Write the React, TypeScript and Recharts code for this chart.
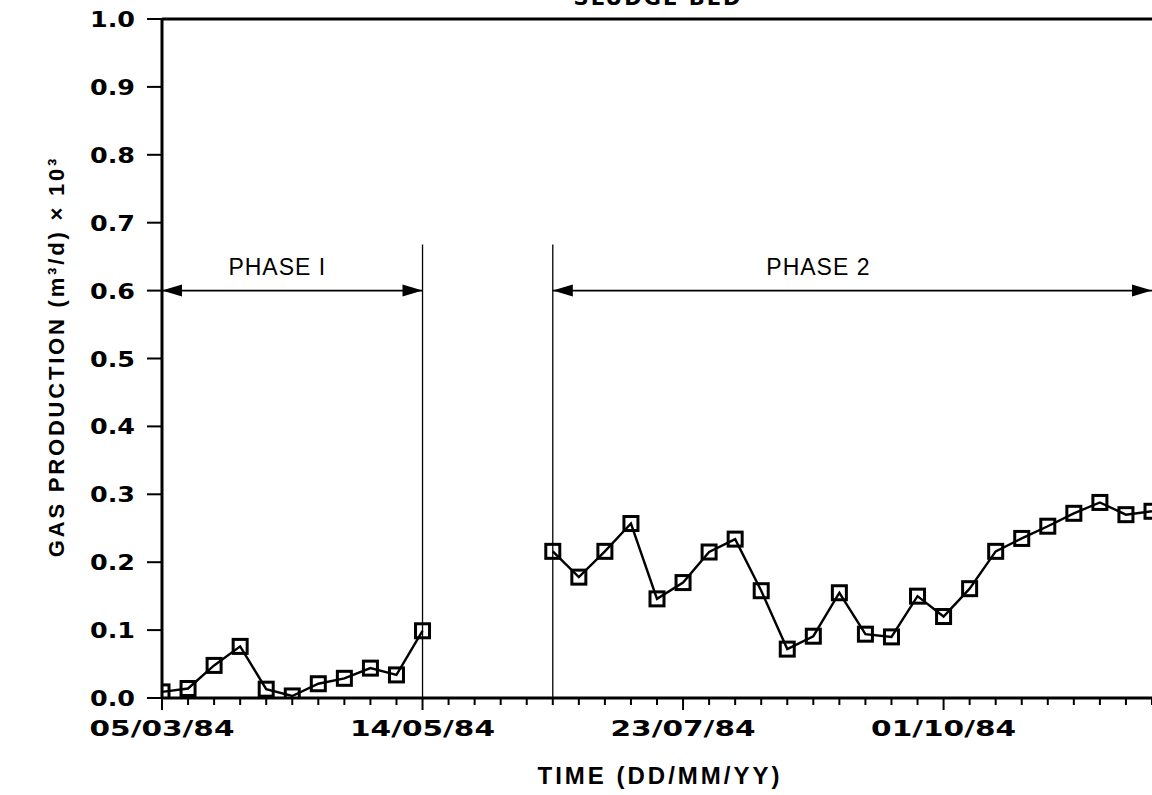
import React from 'react';
import { LineChart, Line, XAxis, YAxis, ReferenceLine, Label } from 'recharts';

// Days since 05/03/84 (weekly samples)
const phase1Days = [0, 7, 14, 21, 28, 35, 42, 49, 56, 63, 70];
const phase1Gas = [0.009, 0.014, 0.048, 0.076, 0.013, 0.003, 0.021, 0.029, 0.044, 0.034, 0.099];

const phase2Days = [105, 112, 119, 126, 133, 140, 147, 154, 161, 168, 175, 182, 189, 196, 203, 210, 217, 224, 231, 238, 245, 252, 259, 266];
const phase2Gas = [0.216, 0.178, 0.216, 0.257, 0.146, 0.17, 0.215, 0.234, 0.158, 0.072, 0.091, 0.155, 0.094, 0.09, 0.15, 0.12, 0.161, 0.216, 0.235, 0.253, 0.272, 0.288, 0.27, 0.275];

const xTickDays = [0, 7, 14, 21, 28, 35, 42, 49, 56, 63, 70, 77, 84, 91, 98, 105, 112, 119, 126, 133, 140, 147, 154, 161, 168, 175, 182, 189, 196, 203, 210, 217, 224, 231, 238, 245, 252, 259, 266];
const xMajorDays = [0, 70, 140, 210];
const xMajorLabels = ['05/03/84', '14/05/84', '23/07/84', '01/10/84'];

const yTicks = [0, 0.1, 0.2, 0.3, 0.4, 0.5, 0.6, 0.7, 0.8, 0.9, 1.0];
const yTickLabels = ['0.0', '0.1', '0.2', '0.3', '0.4', '0.5', '0.6', '0.7', '0.8', '0.9', '1.0'];

const phaseEnd1 = 70;
const phaseStart2 = 105;
const phaseArrowLevel = 0.6;
const phaseLineTop = 0.668;

const phase1Data = phase1Days.map((d, i) => ({ day: d, gas: phase1Gas[i] }));
const phase2Data = phase2Days.map((d, i) => ({ day: d, gas: phase2Gas[i] }));

const tickFont = "'DejaVu Sans', sans-serif";
const labelFont = "'Liberation Sans', Arial, sans-serif";

const XTick = (props: any) => {
  const { x, y, payload } = props;
  const idx = xMajorDays.indexOf(payload.value);
  const major = idx >= 0;
  return (
    <g>
      <line x1={x} x2={x} y1={y} y2={y + (major ? 12 : 7)} stroke="#000" strokeWidth={2} />
      {major && (
        <text
          x={x}
          y={y + 38}
          textAnchor="middle"
          fontFamily={tickFont}
          fontWeight="bold"
          fontSize={22}
          textLength={145}
          lengthAdjust="spacingAndGlyphs"
          fill="#000"
        >
          {xMajorLabels[idx]}
        </text>
      )}
    </g>
  );
};

const YTick = (props: any) => {
  const { x, y, payload } = props;
  const idx = yTicks.findIndex((t) => Math.abs(t - payload.value) < 1e-6);
  return (
    <g>
      <line x1={x - 15} x2={x} y1={y} y2={y} stroke="#000" strokeWidth={2} />
      <text
        x={x - 72}
        y={y + 8}
        textAnchor="start"
        fontFamily={tickFont}
        fontWeight="bold"
        fontSize={21}
        textLength={45}
        lengthAdjust="spacingAndGlyphs"
        fill="#000"
      >
        {idx >= 0 ? yTickLabels[idx] : ''}
      </text>
    </g>
  );
};

const Square = (props: any) => {
  const { cx, cy, index } = props;
  if (cx == null || cy == null) return <g key={index} />;
  return (
    <rect key={index} x={cx - 7} y={cy - 7} width={14} height={14} fill="none" stroke="#000" strokeWidth={3} />
  );
};

const arrowShape = (text: string, dx: number) => (props: any) => {
  const { x1, y1, x2, y2 } = props;
  const left = Math.min(x1, x2);
  const right = Math.max(x1, x2);
  const yy = y1;
  const len = 20;
  const hw = 6;
  return (
    <g>
      <line x1={left} x2={right} y1={yy} y2={y2} stroke="#000" strokeWidth={1.8} />
      <polygon points={`${left},${yy} ${left + len},${yy - hw} ${left + len},${yy + hw}`} fill="#000" />
      <polygon points={`${right},${yy} ${right - len},${yy - hw} ${right - len},${yy + hw}`} fill="#000" />
      <text
        x={(left + right) / 2 + dx}
        y={yy - 16}
        textAnchor="middle"
        fontFamily={labelFont}
        fontSize={23}
        letterSpacing={1}
        fill="#000"
      >
        {text}
      </text>
    </g>
  );
};

const YAxisTitle = (props: any) => {
  const vb = props.viewBox || { x: 102, y: 19, width: 60, height: 679 };
  const cx = vb.x - 46;
  const cy = vb.y + vb.height / 2 - 2;
  return (
    <text
      x={cx}
      y={cy}
      transform={`rotate(-90, ${cx}, ${cy})`}
      textAnchor="middle"
      dominantBaseline="central"
      fontFamily={labelFont}
      fontWeight="bold"
      fontSize={22}
      letterSpacing={2.8}
      fill="#000"
    >
      GAS PRODUCTION (m³/d) × 10³
    </text>
  );
};

const XAxisTitle = (props: any) => {
  const vb = props.viewBox || { x: 162, y: 698, width: 990, height: 30 };
  return (
    <text
      x={vb.x + vb.width / 2 + 3}
      y={vb.y + vb.height + 56}
      textAnchor="middle"
      fontFamily={labelFont}
      fontSize={24}
      fontWeight="bold"
      letterSpacing={3}
      fill="#000"
    >
      TIME (DD/MM/YY)
    </text>
  );
};

export default function App() {
  return (
    <div style={{ position: 'absolute', left: 0, top: 0, width: 1152, height: 795, background: '#fff', overflow: 'hidden' }}>
      <div
        style={{
          position: 'absolute',
          left: 658,
          top: -12,
          transform: 'translateX(-50%)',
          fontFamily: tickFont,
          fontWeight: 'bold',
          fontSize: 21,
          lineHeight: '21px',
          letterSpacing: 2,
          whiteSpace: 'nowrap',
          color: '#000',
        }}
      >
        SLUDGE BED
      </div>
      <LineChart
        width={1152}
        height={795}
        margin={{ top: 19, right: 0, left: 102, bottom: 67 }}
      >
        <XAxis
          type="number"
          dataKey="day"
          domain={[0, 266]}
          ticks={xTickDays}
          interval={0}
          tickSize={0}
          tickMargin={0}
          tick={<XTick />}
          axisLine={{ stroke: '#000', strokeWidth: 3 }}
          height={30}
          allowDataOverflow
        >
          <Label content={<XAxisTitle />} />
        </XAxis>
        <YAxis
          type="number"
          domain={[0, 1]}
          ticks={yTicks}
          interval={0}
          tickSize={0}
          tickMargin={0}
          tick={<YTick />}
          axisLine={{ stroke: '#000', strokeWidth: 3 }}
          width={60}
          allowDataOverflow
        >
          <Label content={<YAxisTitle />} />
        </YAxis>
        <ReferenceLine y={1} stroke="#000" strokeWidth={3} ifOverflow="visible" />
        <ReferenceLine
          segment={[{ x: phaseEnd1, y: 0 }, { x: phaseEnd1, y: phaseLineTop }]}
          stroke="#000"
          strokeWidth={1.3}
          ifOverflow="visible"
        />
        <ReferenceLine
          segment={[{ x: phaseStart2, y: 0 }, { x: phaseStart2, y: phaseLineTop }]}
          stroke="#000"
          strokeWidth={1.3}
          ifOverflow="visible"
        />
        <ReferenceLine
          segment={[{ x: 0, y: phaseArrowLevel }, { x: phaseEnd1, y: phaseArrowLevel }]}
          ifOverflow="visible"
          shape={arrowShape('PHASE I', -15)}
        />
        <ReferenceLine
          segment={[{ x: phaseStart2, y: phaseArrowLevel }, { x: 266, y: phaseArrowLevel }]}
          ifOverflow="visible"
          shape={arrowShape('PHASE 2', -34)}
        />
        <Line
          data={phase1Data}
          dataKey="gas"
          type="linear"
          stroke="#000"
          strokeWidth={2.4}
          dot={<Square />}
          activeDot={false}
          isAnimationActive={false}
        />
        <Line
          data={phase2Data}
          dataKey="gas"
          type="linear"
          stroke="#000"
          strokeWidth={2.4}
          dot={<Square />}
          activeDot={false}
          isAnimationActive={false}
        />
      </LineChart>
    </div>
  );
}
